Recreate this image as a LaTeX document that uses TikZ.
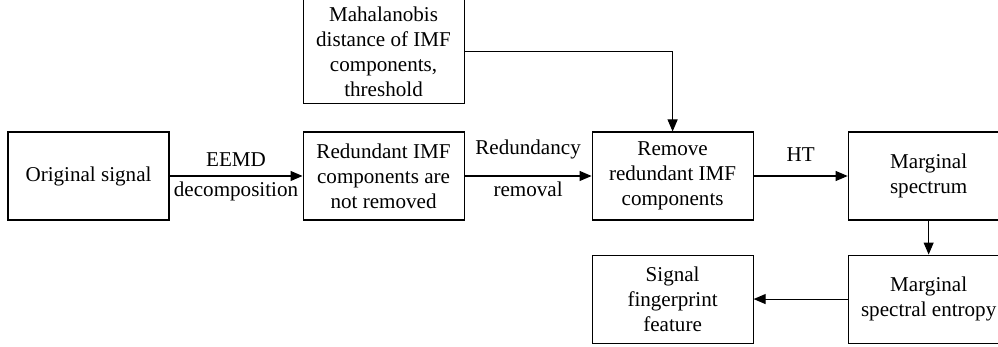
\documentclass[tikz,border=0pt]{standalone}
\usepackage{fontspec}
\setmainfont{Liberation Serif}
\usetikzlibrary{positioning, arrows.meta}

\begin{document}
\begin{tikzpicture}[node distance=1cm,
    block/.style={draw, rectangle, line width=0.6pt, minimum width=3.22cm, minimum height=1.76cm, align=center, inner sep=2pt, font=\fontsize{12}{14.2}\selectfont},
    arr/.style={-{Triangle[length=0.24cm, width=0.2cm]}, line width=0.6pt},
    lbl/.style={font=\fontsize{12}{14.2}\selectfont, inner sep=0pt, anchor=base}]

        \clip (0,0) rectangle (19.96,-6.94);

        % Nodes
        \node (orig) [block] at (1.77,-3.52) {Original signal};
        \node (redund) [block, right=2.66cm of orig] {Redundant IMF\\components are\\not removed};
        \node (remove) [block, right=2.54cm of redund] {Remove\\redundant IMF\\components};
        \node (spectrum) [block, right=1.88cm of remove] {Marginal\\spectrum};

        \node (maha) [block, minimum height=2.08cm, above=0.54cm of redund] {Mahalanobis\\distance of IMF\\components,\\threshold};

        \node (entropy) [block, below=0.68cm of spectrum] {Marginal\\spectral entropy};
        \node (finger) [block] at (remove |- entropy) {Signal\\fingerprint\\feature};

        % Arrows
        \draw[arr] (orig) -- (redund)
            node[lbl, midway, yshift=0.18cm] {EEMD}
            node[lbl, midway, yshift=-0.42cm] {decomposition};
        \draw[arr] (redund) -- (remove)
            node[lbl, midway, yshift=0.42cm] {Redundancy}
            node[lbl, midway, yshift=-0.42cm] {removal};
        \draw[arr] (remove) -- (spectrum)
            node[lbl, midway, yshift=0.28cm] {HT};

        \draw[arr] (maha.east) -| (remove.north);

        \draw[arr] (spectrum) -- (entropy);
        \draw[arr] (entropy) -- (finger);

    \end{tikzpicture}
\end{document}
